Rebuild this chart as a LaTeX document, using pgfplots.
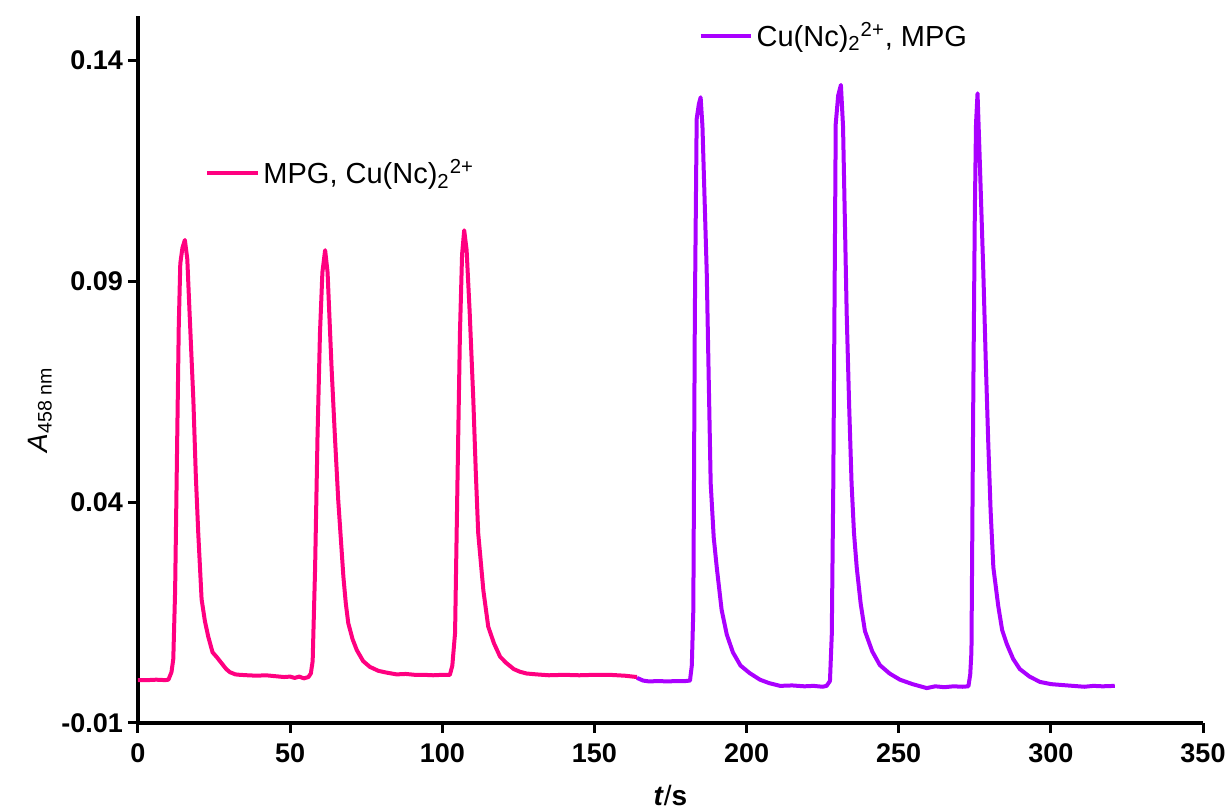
\documentclass[border=0pt]{standalone}
\usepackage{fontspec}
\setmainfont{Liberation Sans}
\usepackage{pgfplots}
\pgfplotsset{compat=1.18}
\definecolor{pinkc}{RGB}{255,0,128}
\definecolor{purplec}{RGB}{170,0,255}
\pgfplotsset{common/.style={
  scale only axis, width=532.5pt, height=353.5pt,
  xmin=0, xmax=350, ymin=-0.01, ymax=0.15,
  legend image code/.code={\draw[#1] (0pt,0pt) -- (25pt,0pt);},
}}
\begin{document}
\begin{tikzpicture}
\path[use as bounding box] (-69pt,-44.5pt) rectangle (543.5pt,361.5pt);
\begin{axis}[common,
  axis lines*=left,
  axis line style={line width=1.6pt, black},
  tick align=outside, major tick length=5pt,
  tick style={line width=1.5pt, black},
  xtick={0,50,100,150,200,250,300,350},
  xticklabels={0,50,100,150,200,250,300,350},
  ytick={-0.01,0.04,0.09,0.14},
  yticklabels={-0.01,0.04,0.09,0.14},
  tick label style={font=\fontsize{13.5}{16}\selectfont\bfseries},
  xticklabel style={yshift=-2pt},
  yticklabel style={xshift=1pt},
  xlabel={\textbf{\textit{t}}/\textbf{s}},
  xlabel style={at={(axis description cs:0.5,-0.103)}, anchor=center, font=\fontsize{14}{16}\selectfont},
  ylabel={\textit{A}\textsubscript{458 nm}},
  ylabel style={at={(axis description cs:-0.092,0.443)}, anchor=center, font=\fontsize{14}{16}\selectfont},
  legend style={at={(axis description cs:0.063,0.778)}, anchor=west, draw=none, fill=none,
    font=\fontsize{14.5}{17}\selectfont, inner sep=0pt},
]
\addplot[pinkc, line width=2pt, line join=round] coordinates {
(0,-0.0003) (3,-0.0003) (6,-0.0002) (9,-0.0003) (10,-0.0002) (11,0.0015) (11.6,0.0045)
(12.2,0.02) (12.8,0.05) (13.4,0.08) (13.9,0.094) (14.6,0.0975) (15.4,0.0993) (16.2,0.095)
(17,0.082) (18.2,0.063) (19,0.046) (19.8,0.033) (20.9,0.018) (22,0.013) (23.1,0.0095)
(24.5,0.006) (25.9,0.0049) (27.5,0.0035) (29,0.0022) (30.2,0.0015) (32,0.0010) (33.5,0.0009)
(36,0.0008) (39,0.0007) (42,0.0008) (45,0.0006) (48,0.0004) (50,0.0005) (51.5,0.0002)
(53,0.0005) (54.5,0.0001) (56,0.0004) (56.8,0.0012) (57.4,0.004) (58.2,0.025) (59,0.055)
(59.8,0.0782) (60.6,0.092) (61.5,0.097) (62.3,0.092) (63.6,0.0706) (64.7,0.055) (65.8,0.0405)
(67.5,0.0231) (68.3,0.017) (69.1,0.0126) (70.5,0.009) (71.9,0.0065) (74,0.004) (76.2,0.0027)
(79,0.0018) (81.7,0.0014) (85,0.0010) (88,0.0011) (91,0.0009) (94,0.0009) (97,0.0008)
(100,0.0009) (102.5,0.0009) (103.3,0.003) (104.2,0.0104) (105,0.045) (105.8,0.0782)
(106.5,0.096) (107.2,0.1015) (108,0.097) (109,0.083) (110.2,0.0631) (111,0.047) (111.8,0.033)
(113.5,0.02) (115.1,0.0118) (117,0.008) (119,0.005) (121,0.0036) (123.5,0.0022) (125.5,0.0016)
(127.7,0.0012) (131,0.0010) (135,0.0008) (140,0.0009) (145,0.0008) (150,0.0009) (155,0.0009)
(160,0.0007) (164,0.0004)
};
\addlegendentry{MPG, Cu(Nc)\textsubscript{2}\textsuperscript{2+}}
\end{axis}
\begin{axis}[common, hide axis,
  legend style={at={(axis description cs:0.526,0.972)}, anchor=west, draw=none, fill=none,
    font=\fontsize{14.5}{17}\selectfont, inner sep=0pt},
]
\addplot[purplec, line width=2pt, line join=round] coordinates {
(164,0.0002) (166,-0.0004) (168,-0.0006) (171,-0.0005) (174,-0.0006) (177,-0.0005)
(180,-0.0005) (181.4,-0.0004) (182,0.003) (182.5,0.0156) (183,0.0826) (183.6,0.1267)
(184.3,0.1300) (184.9,0.1316) (185.5,0.125) (186.9,0.0921) (188.2,0.0443) (189.2,0.032)
(190.2,0.0252) (191.8,0.0156) (193.5,0.010) (195.5,0.006) (198,0.003) (201,0.0013)
(204.4,-0.0002) (207.5,-0.0010) (211,-0.0016) (215,-0.0015) (219,-0.0017) (222,-0.0016)
(225,-0.0018) (226.3,-0.0016) (227.4,-0.0005) (228,0.010) (228.5,0.0443) (229,0.095)
(229.3,0.1256) (230.1,0.1320) (231,0.1344) (231.7,0.125) (232.9,0.0826) (233.7,0.062)
(234.5,0.0443) (235.3,0.033) (236.2,0.0252) (237.5,0.017) (238.9,0.0108) (241.3,0.0062)
(243.8,0.0031) (247,0.0012) (250.4,-0.0002) (254.5,-0.0012) (259.2,-0.0021) (262,-0.0017)
(265,-0.0019) (268,-0.0017) (271,-0.0018) (272.9,-0.0017) (273.5,0.0010) (273.9,0.0061)
(274.5,0.0635) (275,0.105) (275.4,0.1256) (275.9,0.1325) (276.6,0.118) (277.8,0.0921)
(278.6,0.072) (279.4,0.0539) (280.2,0.038) (281.1,0.0252) (282.7,0.0165) (284,0.011)
(285.5,0.0079) (287.6,0.0045) (289.8,0.0022) (293,0.0005) (296.4,-0.0007) (300,-0.0012)
(303.5,-0.0014) (307.3,-0.0016) (311,-0.0018) (314,-0.0016) (317,-0.0017) (321,-0.0016)
};
\addlegendentry{Cu(Nc)\textsubscript{2}\textsuperscript{2+}, MPG}
\end{axis}
\end{tikzpicture}
\end{document}
